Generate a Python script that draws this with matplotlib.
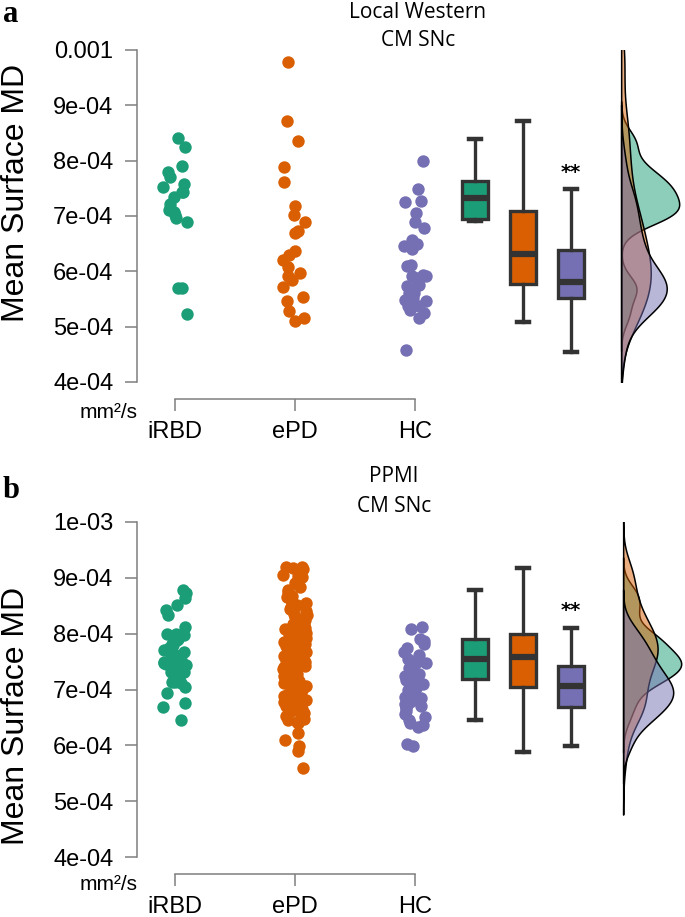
import numpy as np
import matplotlib.pyplot as plt
from matplotlib.colors import to_rgba

W, H = 685, 917
SCALE = 1e-4  # values below are in units of 1e-4 mm^2/s

groups = ['iRBD', 'ePD', 'HC']
colors = ['#1B9E77', '#D95F02', '#7570B3']

# panel a: Local Western cohort
west_irbd = [8.41, 8.24, 7.91, 7.80, 7.71, 7.57, 7.53, 7.44, 7.44, 7.35, 7.21,
             7.15, 7.10, 7.08, 7.02, 6.96, 6.90, 5.70, 5.70, 5.23]
west_epd = [9.79, 8.72, 8.36, 7.89, 7.62, 7.18, 7.01, 6.90, 6.72, 6.70, 6.36,
            6.30, 6.21, 6.07, 5.97, 5.91, 5.85, 5.71, 5.54, 5.46, 5.28, 5.16, 5.10]
west_hc = [8.00, 7.49, 7.28, 7.26, 7.05, 6.90, 6.78, 6.57, 6.50, 6.45, 6.40,
           6.12, 6.10, 5.94, 5.91, 5.91, 5.88, 5.80, 5.76, 5.76, 5.73, 5.61,
           5.61, 5.52, 5.49, 5.46, 5.37, 5.37, 5.31, 5.25, 5.16, 4.58]
# box stats: low whisker, q1, median, q3, high whisker
west_box = [(6.91, 6.94, 7.32, 7.63, 8.40),
            (5.08, 5.77, 6.31, 7.09, 8.71),
            (4.54, 5.52, 5.80, 6.38, 7.48)]
west_ticks = [4, 5, 6, 7, 8, 9, 10]
west_ticklabels = ['4e-04', '5e-04', '6e-04', '7e-04', '8e-04', '9e-04', '0.001']

# panel b: PPMI cohort
ppmi_irbd = [8.79, 8.72, 8.63, 8.51, 8.42, 8.33, 8.12, 8.00, 8.00, 7.98, 7.91,
             7.88, 7.82, 7.79, 7.75, 7.70, 7.67, 7.64, 7.60, 7.57, 7.53, 7.50,
             7.49, 7.47, 7.45, 7.43, 7.40, 7.35, 7.32, 7.31, 7.31, 7.26, 7.20,
             7.14, 7.14, 7.11, 7.05, 6.93, 6.75, 6.69, 6.45]
ppmi_epd = [9.20, 9.19, 9.17, 9.15, 9.05, 9.03, 9.02, 8.90, 8.84, 8.78, 8.75,
            8.68, 8.66, 8.60, 8.55, 8.52, 8.48, 8.45, 8.40, 8.36, 8.33, 8.30,
            8.28, 8.25, 8.22, 8.20, 8.18, 8.15, 8.12, 8.10, 8.08, 8.05, 8.04,
            8.02, 8.00, 7.98, 7.97, 7.95, 7.93, 7.92, 7.90, 7.88, 7.86, 7.85,
            7.83, 7.81, 7.80, 7.78, 7.76, 7.75, 7.73, 7.71, 7.70, 7.68, 7.66,
            7.65, 7.63, 7.61, 7.60, 7.58, 7.57, 7.55, 7.53, 7.52, 7.50, 7.48,
            7.46, 7.44, 7.42, 7.40, 7.38, 7.36, 7.34, 7.32, 7.30, 7.27, 7.24,
            7.21, 7.18, 7.15, 7.12, 7.10, 7.06, 7.03, 7.00, 6.97, 6.95, 6.92,
            6.90, 6.88, 6.85, 6.82, 6.80, 6.78, 6.75, 6.72, 6.70, 6.68, 6.65,
            6.62, 6.58, 6.55, 6.52, 6.50, 6.47, 6.45, 6.42, 6.40, 6.22, 6.10,
            5.98, 5.90, 5.60]
ppmi_hc = [8.12, 8.09, 7.90, 7.86, 7.82, 7.75, 7.68, 7.62, 7.55, 7.50, 7.47,
           7.43, 7.38, 7.33, 7.28, 7.24, 7.21, 7.17, 7.14, 7.10, 7.07, 7.05,
           7.02, 6.99, 6.96, 6.93, 6.90, 6.87, 6.84, 6.81, 6.78, 6.74, 6.71,
           6.69, 6.66, 6.62, 6.57, 6.51, 6.45, 6.40, 6.36, 6.32, 6.02, 5.99]
ppmi_box = [(6.45, 7.18, 7.54, 7.90, 8.79),
            (5.88, 7.04, 7.58, 8.00, 9.17),
            (5.99, 6.68, 7.06, 7.42, 8.11)]
ppmi_ticks = [4, 5, 6, 7, 8, 9, 10]
ppmi_ticklabels = ['4e-04', '5e-04', '6e-04', '7e-04', '8e-04', '9e-04', '1e-03']

plt.rcParams['font.family'] = ['Liberation Sans', 'DejaVu Sans']
AXCOL = '#7f7f7f'


def px_rect(left, top, right, bottom):
    return [left / W, 1 - bottom / H, (right - left) / W, (bottom - top) / H]


def kde(vals):
    """gaussian density with R's bw.nrd0 and cut=3"""
    v = np.asarray(vals)
    q1, q3 = np.percentile(v, [25, 75])
    bw = 0.9 * min(v.std(ddof=1), (q3 - q1) / 1.34) * len(v) ** -0.2
    grid = np.linspace(v.min() - 3 * bw, v.max() + 3 * bw, 512)
    d = np.exp(-0.5 * ((grid[:, None] - v[None, :]) / bw) ** 2).sum(axis=1)
    d /= len(v) * bw * np.sqrt(2 * np.pi)
    return grid, d


def panel(fig, data, box, ticks, ticklabels, top, bottom, dens_left, rng):
    ax = fig.add_axes(px_rect(137, top, 610, bottom))
    ax.set_xlim(0.6833, 4.625)
    ax.set_ylim(ticks[0] * SCALE, ticks[-1] * SCALE)

    for i, (vals, c) in enumerate(zip(data, colors)):
        x = i + 1 + rng.uniform(-0.1, 0.1, len(vals))
        ax.scatter(x, np.array(vals) * SCALE, s=80, color=c, lw=0, zorder=3)

    stats = [dict(whislo=b[0] * SCALE, q1=b[1] * SCALE, med=b[2] * SCALE,
                  q3=b[3] * SCALE, whishi=b[4] * SCALE) for b in box]
    bp = ax.bxp(stats, positions=[3.5, 3.9, 4.3], widths=0.217,
                patch_artist=True, showfliers=False, capwidths=0.1,
                boxprops=dict(lw=2.4, edgecolor='#333333'),
                medianprops=dict(color='#333333', lw=4.5, solid_capstyle='butt'),
                whiskerprops=dict(color='#333333', lw=2.4),
                capprops=dict(color='#333333', lw=3.2))
    for patch, c in zip(bp['boxes'], colors):
        patch.set_facecolor(c)
    ax.text(4.3, (box[2][4] + 0.31) * SCALE, '**', ha='center', va='center',
            fontsize=14, fontweight='bold', family='DejaVu Sans')

    ax.set_yticks([t * SCALE for t in ticks])
    ax.set_yticklabels(ticklabels)
    ax.set_xticks([1, 2, 3])
    ax.set_xticklabels(groups)
    for s in ['top', 'right']:
        ax.spines[s].set_visible(False)
    ax.spines['bottom'].set_position(('outward', 12.2))
    ax.spines['bottom'].set_bounds(1, 3)
    for s in ['left', 'bottom']:
        ax.spines[s].set_color(AXCOL)
        ax.spines[s].set_linewidth(1.1)
    ax.tick_params(axis='y', length=8.6, width=1.1, color=AXCOL, pad=8.5,
                   labelsize=17)
    ax.tick_params(axis='x', length=8.6, width=1.1, color=AXCOL, pad=7.5,
                   labelsize=17)

    # half-violin densities
    dax = fig.add_axes(px_rect(dens_left, top, dens_left + 70, bottom))
    dax.set_ylim(ax.get_ylim())
    dmax = 0
    for vals, c in zip(data, colors):
        g, d = kde(vals)
        dmax = max(dmax, d.max())
        dax.fill_betweenx(g * SCALE, 0, d, facecolor=to_rgba(c, 0.5),
                          edgecolor='black', lw=1.1)
    dax.set_xlim(-0.02 * dmax, dmax * 70 / 59)
    dax.axis('off')
    return ax


fig = plt.figure(figsize=(W / 100, H / 100), dpi=100)
rng = np.random.default_rng(7)

panel(fig, [west_irbd, west_epd, west_hc], west_box, west_ticks,
      west_ticklabels, 50, 382, 620, rng)
panel(fig, [ppmi_irbd, ppmi_epd, ppmi_hc], ppmi_box, ppmi_ticks,
      ppmi_ticklabels, 522, 857, 622, rng)

# panel letters, titles, axis labels
fig.text(11 / W, 1 - 14 / H, 'a', fontsize=22, fontweight='bold',
         family='Liberation Serif', ha='center', va='center')
fig.text(11 / W, 1 - 491 / H, 'b', fontsize=22, fontweight='bold',
         family='Liberation Serif', ha='center', va='center')
fig.text(418 / W, 1 - 12 / H, 'Local Western', fontsize=15, family='Open Sans',
         ha='center', va='center')
fig.text(418 / W, 1 - 41 / H, 'CM SNc', fontsize=15, family='Open Sans',
         ha='center', va='center')
fig.text(394 / W, 1 - 477 / H, 'PPMI', fontsize=15, family='Open Sans',
         ha='center', va='center')
fig.text(394 / W, 1 - 506 / H, 'CM SNc', fontsize=15, family='Open Sans',
         ha='center', va='center')
fig.text(16 / W, 1 - 193 / H, 'Mean Surface MD', fontsize=23, rotation=90,
         ha='center', va='center')
fig.text(16 / W, 1 - 716 / H, 'Mean Surface MD', fontsize=23, rotation=90,
         ha='center', va='center')
fig.text(138 / W, 1 - 413 / H, 'mm²/s', fontsize=15, ha='right', va='center')
fig.text(138 / W, 1 - 884 / H, 'mm²/s', fontsize=15, ha='right', va='center')

fig.savefig('out.png', dpi=100)
